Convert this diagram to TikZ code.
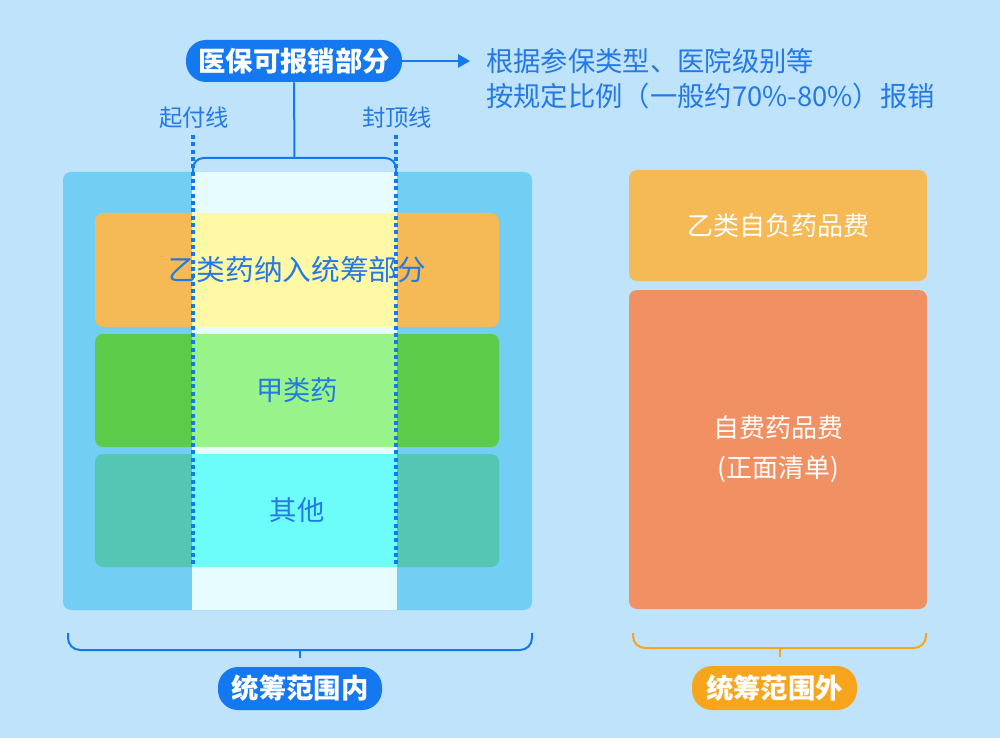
\documentclass[tikz,border=0pt]{standalone}
\usepackage{fontspec}
\newfontfamily\cjk{Noto Sans CJK SC}
\usetikzlibrary{arrows.meta, positioning, calc}
\definecolor{bg}{HTML}{BEE3FA}
\definecolor{pool}{HTML}{72CEF2}
\definecolor{bar}{HTML}{F5BA55}
\definecolor{jia}{HTML}{5CCB4A}
\definecolor{other}{HTML}{55C6B4}
\definecolor{band}{HTML}{E6FCFF}
\definecolor{barhi}{HTML}{FFF8A5}
\definecolor{jiahi}{HTML}{98F48A}
\definecolor{otherhi}{HTML}{6CFCFA}
\definecolor{main}{HTML}{1478F0}
\definecolor{ink}{HTML}{2479E6}
\definecolor{self}{HTML}{F09063}
\definecolor{outer}{HTML}{F8A51E}

\begin{document}
\begin{tikzpicture}[
    x=0.75pt, y=-0.75pt,
    font=\cjk,
    > = {Triangle[length=9pt, width=10pt]},
    pill/.style    = {rounded corners=15pt, text=white, font=\cjk\bfseries\fontsize{20.5}{22}\selectfont,
                      inner sep=0pt},
    block/.style   = {rounded corners=6pt, inner sep=0pt},
    inktext/.style = {text=ink, font=\cjk\fontsize{20.5}{26}\selectfont, inner sep=0pt},
    boxtext/.style = {text=white, font=\cjk\fontsize{19.5}{30}\selectfont, align=center},
    limit/.style   = {draw=main, line width=2.3pt, dash pattern=on 3pt off 2.5pt},
    link/.style    = {draw=main, line width=1.5pt},
    brace/.style   = {line width=1.5pt, rounded corners=9pt},
]

% --------------------------------------------- canvas --------------------------------------------
\fill[bg] (0,0) rectangle (1000,738);
\useasboundingbox (0,0) rectangle (1000,738);

% ------------------------------------------- pooled range ------------------------------------------
\node[block, fill=pool, minimum width=351.75pt, minimum height=328.5pt] (pool) at (297.5,391) {};
\node[block, fill=bar,   minimum width=303pt, minimum height=85.5pt]  (ybar) at (297,270) {};
\node[block, fill=jia,   minimum width=303pt, minimum height=84.75pt] (jbar) at (297,390.5) {};
\node[block, fill=other, minimum width=303pt, minimum height=84.75pt] (obar) at (297,510.5) {};

% ------------------------------------------ reimbursed band ----------------------------------------
\fill[band]    (192,172) rectangle (397,610);
\fill[barhi]   (192,213) rectangle (397,327);
\fill[jiahi]   (192,334) rectangle (397,447);
\fill[otherhi] (192,454) rectangle (397,567);

\node[inktext, font=\cjk\fontsize{21.5}{24}\selectfont] (yi) at (ybar) {乙类药纳入统筹部分};
\node[inktext] (jiatxt) at (jbar) {甲类药};
\node[inktext] (qita)   at (obar) {其他};

% ------------------------------------------ limits ------------------------------------------------
\coordinate (startTop) at (193,135);
\coordinate (startBot) at (193,566);
\coordinate (capTop)   at (396,135);
\coordinate (capBot)   at (396,566);
\coordinate (colTop)   at (294.5,158);
\draw[limit] (startTop) -- (startBot);
\draw[limit] (capTop) -- (capBot);
\draw[link, rounded corners=8pt] (193,174) -- (193,158) -- (396,158) -- (396,174);

\node[inktext, font=\cjk\fontsize{17.5}{20}\selectfont] (start) at (194,118) {起付线};
\node[inktext, font=\cjk\fontsize{17.5}{20}\selectfont] (cap)   at (397,118) {封顶线};

% ------------------------------------------ reimbursed part ----------------------------------------
\node[pill, fill=main, minimum width=162pt, minimum height=31.5pt] (paid) at (294,61) {医保可报销部分};
\node[inktext, align=left, anchor=west] (rule) at (486,78.5)
    {根据参保类型、医院级别等\\按规定比例（一般约70\%-80\%）报销};

\draw[link] (paid.south) -- (colTop);
\draw[link, ->] (paid.east) -- ([xshift=-12pt]paid.east -| rule.west);

% ------------------------------------------ outside range -----------------------------------------
\node[block, boxtext, fill=bar, minimum width=223.5pt, minimum height=83.25pt] (yself) at (778,225.5)
    {乙类自负药品费};
\node[block, boxtext, fill=self, minimum width=223.5pt, minimum height=239.25pt] (zself) at (778,449.5)
    {自费药品费\\(正面清单)};

% ------------------------------------------ braces ------------------------------------------------
\coordinate (inMid)  at (300,650);
\coordinate (inTick) at (300,658);
\coordinate (outMid)  at (780,648);
\coordinate (outTick) at (780,657);
\draw[brace, draw=main]  (68,633) -- (68,650) -- (532,650) -- (532,633);
\draw[brace, draw=outer] (633,633) -- (633,648) -- (926,648) -- (926,633);
\draw[link] (inMid) -- (inTick);
\draw[link, draw=outer] (outMid) -- (outTick);

\node[pill, fill=main,  minimum width=123pt,    minimum height=32.25pt] (inside)  at (300,688.5) {统筹范围内};
\node[pill, fill=outer, minimum width=123.75pt, minimum height=33pt]    (outside) at (774.5,688) {统筹范围外};

\end{tikzpicture}
\end{document}
